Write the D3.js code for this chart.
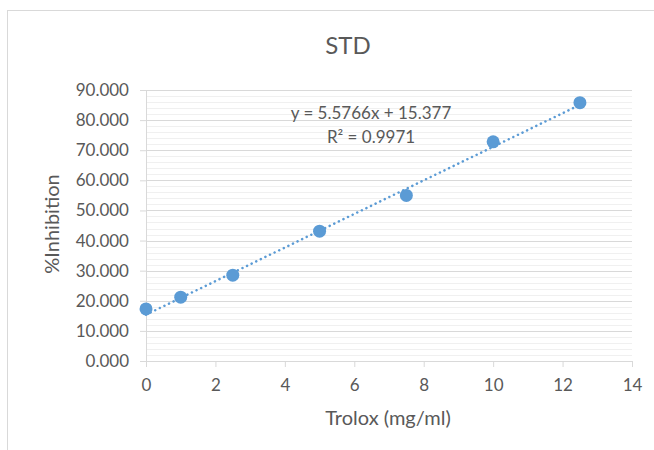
<!DOCTYPE html>
<html><head><meta charset="utf-8">
<script src="https://cdn.jsdelivr.net/npm/d3@7"></script>
<style>body{margin:0;background:#fff;} svg{display:block;}</style>
</head><body>
<svg id="chart" width="654" height="450"></svg>
<script>
const title = "STD";
const xLabel = "Trolox (mg/ml)";
const yLabel = "%Inhibition";
const concentrations = [0, 1, 2.5, 5, 7.5, 10, 12.5];
const inhibition = [17.3, 21.2, 28.5, 43.1, 55.0, 72.8, 85.8];
const slope = 5.5766, intercept = 15.377;
const equationLines = ["y = 5.5766x + 15.377", "R² = 0.9971"];
const xTicks = [0, 2, 4, 6, 8, 10, 12, 14];
const yTicks = [0, 10, 20, 30, 40, 50, 60, 70, 80, 90];
const yMinorTicks = d3.range(0, 90.01, 2);

const svg = d3.select("#chart");
const font = "Lato, 'Open Sans', sans-serif";
const textCol = "#595959";

// chart border
svg.append("rect").attr("x", 7.5).attr("y", 10.5).attr("width", 660).attr("height", 460)
  .attr("fill", "#fff").attr("stroke", "#d9d9d9").attr("stroke-width", 1);

const x = d3.scaleLinear().domain([0, 14]).range([146, 632]);
const y = d3.scaleLinear().domain([0, 90]).range([361, 90]);

// minor grid
svg.append("g").selectAll("line").data(yMinorTicks.filter(v => v % 10 !== 0)).join("line")
  .attr("x1", x(0)).attr("x2", x(14))
  .attr("y1", d => Math.round(y(d)) + 0.5).attr("y2", d => Math.round(y(d)) + 0.5)
  .attr("stroke", "#f0f0f0").attr("stroke-width", 1);
// major grid
svg.append("g").selectAll("line").data(yTicks.filter(v => v > 0)).join("line")
  .attr("x1", x(0)).attr("x2", x(14))
  .attr("y1", d => Math.round(y(d)) + 0.5).attr("y2", d => Math.round(y(d)) + 0.5)
  .attr("stroke", "#d9d9d9").attr("stroke-width", 1);

// y axis
const yAxis = svg.append("g").attr("transform", `translate(${x(0)},0)`)
  .call(d3.axisLeft(y).tickValues(yTicks).tickFormat(d3.format(".3f")).tickSizeInner(6).tickSizeOuter(0).tickPadding(11));
yAxis.select(".domain").attr("stroke", "#d9d9d9");
yAxis.selectAll(".tick line").attr("stroke", "#d9d9d9");
yAxis.selectAll("text").attr("fill", textCol).style("font-family", font).style("font-size", "17px");

// x axis
const xAxis = svg.append("g").attr("transform", `translate(0,${y(0)})`)
  .call(d3.axisBottom(x).tickValues(xTicks).tickFormat(d3.format("d")).tickSizeInner(6).tickSizeOuter(0).tickPadding(12));
xAxis.select(".domain").attr("stroke", "#d9d9d9");
xAxis.selectAll(".tick line").attr("stroke", "#d9d9d9");
xAxis.selectAll("text").attr("fill", textCol).style("font-family", font).style("font-size", "17px");

// trendline
const xr = d3.extent(concentrations);
svg.append("line")
  .attr("x1", x(xr[0])).attr("y1", y(slope * xr[0] + intercept))
  .attr("x2", x(xr[1])).attr("y2", y(slope * xr[1] + intercept))
  .attr("stroke", "#5b9bd5").attr("stroke-width", 2.5)
  .attr("stroke-dasharray", "0.1 5").attr("stroke-linecap", "round");

// points
svg.append("g").selectAll("circle").data(concentrations).join("circle")
  .attr("cx", (d) => x(d)).attr("cy", (d, i) => y(inhibition[i])).attr("r", 6.5)
  .attr("fill", "#5b9bd5");

// equation
svg.append("g").selectAll("text").data(equationLines).join("text")
  .attr("x", 371).attr("y", (d, i) => 119 + i * 24)
  .attr("text-anchor", "middle").attr("fill", textCol)
  .style("font-family", font).style("font-size", "17px").text(d => d);

// title
svg.append("text").attr("x", 348).attr("y", 54).attr("text-anchor", "middle")
  .attr("fill", textCol).style("font-family", font).style("font-size", "24px").text(title);

// axis titles
svg.append("text").attr("x", 388).attr("y", 425).attr("text-anchor", "middle")
  .attr("fill", textCol).style("font-family", font).style("font-size", "20px").text(xLabel);
svg.append("text").attr("transform", "translate(59,224) rotate(-90)").attr("text-anchor", "middle")
  .attr("fill", textCol).style("font-family", font).style("font-size", "20px").text(yLabel);
</script>
</body></html>
